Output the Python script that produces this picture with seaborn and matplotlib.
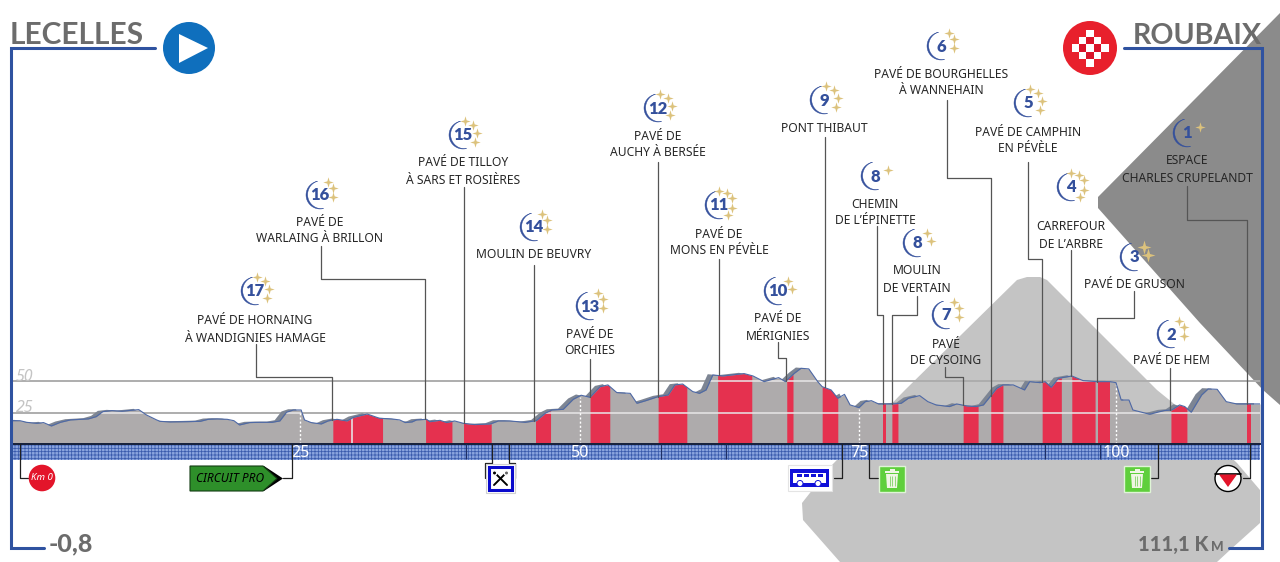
import numpy as np
import matplotlib
matplotlib.use("Agg")
import matplotlib.pyplot as plt
from matplotlib.patches import Polygon, Rectangle, Circle
from matplotlib.path import Path
import seaborn as sns

# ---------- data ----------
profile_km = [-0.8,0,0.6,1.5,2.1,2.8,3.6,4.5,6.1,6.8,7.4,8.2,9.1,10.6,11.3,12.2,12.5,13.4,14.9,16.1,16.8,17.6,18.5,19.1,19.6,20.5,21.4,22.5,23.2,23.8,24.4,25.1,25.4,26.0,26.9,27.5,28.3,29.2,29.8,31.0,32.1,33.2,33.9,34.4,35.0,35.4,36.3,
              36.6,37.5,38.1,38.8,39.6,40.6,42.0,42.7,43.7,45.1,46.1,46.9,47.5,48.5,49.4,50.1,50.9,51.8,52.5,53.3,54.5,55.1,55.9,57.0,57.9,58.5,59.2,60.1,60.7,61.3,61.9,62.8,64.7,65.5,66.5,67.8,68.4,69.2,69.8,70.5,71.3,71.7,72.5,73.1,73.7,74.2,75.0,
              75.6,76.2,76.9,78.2,79.1,79.8,80.9,81.7,82.5,83.8,84.5,85.5,86.4,87.1,88.4,89.0,90.0,91.1,91.6,92.6,93.1,93.7,94.4,95.7,96.8,98.1,99.4,100.0,
              100.4,101.0,101.3,102.6,103.7,104.3,104.9,105.3,105.8,106.6,107.1,107.8,108.5,109.3,111.1]
profile_elev = [18.5,18.5,17.2,16.4,17.0,14.3,17.2,19.1,19.9,21.7,25.7,26.5,26.0,27.3,23.0,19.1,18.0,17.5,17.7,18.0,19.6,19.9,19.6,18.5,15.1,17.0,17.2,17.2,18.3,25.2,27.0,27.0,19.1,17.0,15.9,18.3,19.6,18.3,21.2,23.8,20.4,19.9,19.1,17.0,17.5,19.1,19.6,
                17.7,18.8,17.0,18.3,16.4,15.4,15.9,18.3,18.3,17.2,18.5,24.4,27.0,27.5,35.5,38.7,37.1,45.5,46.9,40.8,40.2,32.3,34.4,37.6,38.9,46.9,47.6,41.6,40.2,42.9,54.8,54.0,55.9,54.0,49.5,52.7,49.5,56.1,60.1,59.6,49.5,45.5,42.9,36.3,39.4,31.0,28.9,
                33.6,34.4,31.8,31.8,32.3,36.3,38.4,33.6,31.0,29.7,31.8,30.2,29.7,31.0,44.2,46.9,46.9,42.9,49.5,48.7,49.5,45.0,52.1,54.0,50.3,49.5,49.5,48.7,
                34.9,34.9,27.0,23.6,26.5,27.0,31.0,29.7,25.2,38.9,43.7,43.4,33.6,31.8,31.8]

sector_numbers = [17,16,15,14,13,12,11,10,9,8,8,7,6,5,4,3,2,1]
sector_stars   = [4,3,4,3,3,4,5,2,4,1,2,3,3,4,5,2,3,1]
sector_names = [["PAVÉ DE HORNAING","À WANDIGNIES HAMAGE"],["PAVÉ DE","WARLAING À BRILLON"],
                ["PAVÉ DE TILLOY","À SARS ET ROSIÈRES"],["MOULIN DE BEUVRY"],["PAVÉ DE","ORCHIES"],
                ["PAVÉ DE","AUCHY À BERSÉE"],["PAVÉ DE","MONS EN PÉVÈLE"],["PAVÉ DE","MÉRIGNIES"],
                ["PONT THIBAUT"],["CHEMIN","DE L’ÉPINETTE"],["MOULIN","DE VERTAIN"],["PAVÉ","DE CYSOING"],
                ["PAVÉ DE BOURGHELLES","À WANNEHAIN"],["PAVÉ DE CAMPHIN","EN PÉVÈLE"],["CARREFOUR","DE L’ARBRE"],
                ["PAVÉ DE GRUSON"],["PAVÉ DE HEM"],["ESPACE","CHARLES CRUPELANDT"]]
sector_start = [27.9,36.2,39.6,46.0,50.9,57.0,62.3,68.5,71.7,77.3,78.2,85.1,87.8,92.8,95.7,98.2,104.2,110.1]
sector_end   = [32.4,38.6,42.1,47.4,52.7,59.6,65.4,69.1,73.1,77.6,78.8,86.6,89.0,94.7,98.0,99.4,105.5,110.4]
km_ticks = [25,50,75,100]
elev_ticks = [25,50]
start_name, finish_name = "LECELLES", "ROUBAIX"
start_km_label, finish_km_label = "-0,8", "111,1 K"

# ---------- layout (pixels of the poster) ----------
W, H = 1280, 562
AX_L, AX_R, AX_B, AX_T = 11, 1260, 444, 360
badge_xy = [(255,291),(320,195),(463,135),(534,227),(590,306),(658,108),(719,205),(778,291),(824,100),
            (875,176),(917,243),(946,315),(941,46),(1028,103),(1071,187),(1134,257),(1171,334),(1187,133)]
label_y = [[319,337],[221,238],[162,179],[254],[333,350],[135,152],[233,250],[318,335],[127],
           [203,220],[270,288],[343,360],[73,90],[131,148],[226,243],[284],[360],[160,177]]
leaders = [[(255.5,344),(255.5,377)],[(320.5,246),(320.5,278.5)],[(463.5,187)],[(534,265)],[(590,359)],[(658,162)],
           [(719,259)],[(778,342),(778,358)],[(824.7,137)],[(876.7,226),(876.7,315)],[(917,296),(917,315)],
           [(945,367),(945,377)],[(946.7,100),(946.7,178)],[(1028,162),(1028,259)],[(1071,250)],[(1134,291),(1134,318)],
           [(1170,368)],[(1186.7,186),(1186.7,220)]]
star_offsets = {1:[(12.7,-5.7)],2:[(10,-10),(14,-1.7)],3:[(7.7,-13.3),(12.7,-7.3),(13.3,2)],
                4:[(2,-14.3),(10,-10.3),(14,-1.7),(12,7.3)],5:[(0,-14),(8,-12),(12.7,-6.7),(13.3,3.3),(9,10)]}

sns.set_theme(style="white")
plt.rcParams["font.family"] = ["Noto Sans", "DejaVu Sans"]
BLUE = "#2f52a0"; GREY = "#6c6c6c"; NAVY = "#34509c"; GOLD = "#dcc27c"

# four-pointed star
_r = 0.22
star_path = Path([(0,1),(_r,_r),(1,0),(_r,-_r),(0,-1),(-_r,-_r),(-1,0),(-_r,_r),(0,1)])

fig = plt.figure(figsize=(W/100, H/100), dpi=100, facecolor="white")

def full_axes(z):
    a = fig.add_axes([0, 0, 1, 1], zorder=z)
    a.set_xlim(0, W); a.set_ylim(H, 0); a.axis("off"); a.patch.set_alpha(0)
    return a

bg = full_axes(0); fg = full_axes(5)

# background shapes
bg.add_patch(Polygon([(1280,13),(1197,97),(1098,197),(1098,208),(1200,323),(1263,390),(1280,405)], fc="#8b8b8b", ec="none"))
bg.add_patch(Polygon([(1017,280),(1027,277),(1040,277),(1047,280),(1157,390),(1173,403),(1237,463),(1260,490),(1260,523),
                      (1230,550),(1217,562),(840,562),(803,520),(802,503),(832,465),(905,390)], fc="#c4c4c4", ec="none"))
# km band
matplotlib.rcParams["hatch.linewidth"] = 0.55
bg.add_patch(Rectangle((AX_L, AX_B), AX_R-AX_L, 15.5, fc="#8ba5de", ec="#3a5bad", hatch="+++++", lw=0))

# profile axes
ax = fig.add_axes([AX_L/W, 1-AX_B/H, (AX_R-AX_L)/W, (AX_B-AX_T)/H], zorder=3)
ax.patch.set_alpha(0)
knots_km = np.array([-100, -0.8, 0, 25, 50, 75, 100, 111.1, 300])
knots_px = np.array([-1100, AX_L, 20, 300, 580, 859, 1116, 1260, 3700], dtype=float)
ax.set_xscale("function", functions=(lambda v: np.interp(v, knots_km, knots_px),
                                     lambda v: np.interp(v, knots_px, knots_km)))
ax.set_xlim(-0.8, 111.1); ax.set_ylim(0, (AX_B-AX_T)*25/31.5)

km = np.array(profile_km); el = np.array(profile_elev)
dense = np.unique(np.concatenate([km, np.linspace(-0.8, 111.1, 3000)]))
eld = np.interp(dense, km, el)

ax.set_yticks(elev_ticks); ax.set_yticklabels([str(t) for t in elev_ticks])
ax.yaxis.grid(True, color="#adadad", lw=1.4, zorder=0); ax.xaxis.grid(False)
ax.tick_params(axis="y", length=0, pad=-16, labelsize=11.5, labelcolor="#c4c4c4")
for t in ax.get_yticklabels():
    t.set_fontstyle("italic"); t.set_va("baseline")
ax.set_xticks(km_ticks); ax.set_xticklabels([str(t) for t in km_ticks])
ax.tick_params(axis="x", length=0, pad=0.5, labelsize=11.5, labelcolor="white")
ax.minorticks_off(); ax.set_xlabel(""); ax.set_ylabel("")
sns.despine(ax=ax, left=True, right=True, top=True, bottom=False)
ax.spines["bottom"].set_color("#15203a"); ax.spines["bottom"].set_linewidth(1.4); ax.spines["bottom"].set_zorder(9)

# 3D shadow on the rises, main body, sectors
ax.fill_between(dense-0.5, 0, eld+1.0, color="#7d8593", lw=0, zorder=2)
body = ax.fill_between(dense, 0, eld, color="#aeabac", lw=0, zorder=3)
for s, e in zip(sector_start, sector_end):
    m = (dense >= s) & (dense <= e)
    ax.fill_between(dense[m], 0, eld[m], color="#e5314f", lw=0, zorder=4)
ax.vlines([29.65], 0, np.interp(29.65, km, el), color="#e7e0e2", lw=1.2, zorder=5)
sns.lineplot(x=km, y=el, ax=ax, color="#4e69a6", lw=0.8, sort=False, estimator=None, zorder=6, legend=False)
for v in elev_ticks:
    ln = ax.axhline(v, color="#e8e6e7", lw=1.1, zorder=5)
    ln.set_clip_path(body.get_paths()[0], body.get_transform())
for t in km_ticks:
    ax.vlines(t, 0, np.interp(t, km, el)-1, color="white", lw=1, ls=(0, (1.5, 1.5)), zorder=5)

def to_px(k, e):
    x, y = ax.transData.transform((k, e))
    return x*W/fig.bbox.width, H-y*H/fig.bbox.height

# frame
LW = 2.2
fg.plot([155,11,11,44],[48,48,548,548], color=BLUE, lw=LW, solid_joinstyle="miter", zorder=2)
fg.plot([1124,1262,1262,1229],[48,48,548,548], color=BLUE, lw=LW, solid_joinstyle="miter", zorder=2)

# titles
fg.text(10, 44, start_name, family="Lato", weight="bold", size=21.5, color=GREY, ha="left", va="baseline")
fg.text(1133, 44, finish_name, family="Lato", weight="bold", size=20.6, color=GREY, ha="left", va="baseline")
fg.text(49, 551, start_km_label, family="Lato", weight="black", size=18, color=GREY, ha="left", va="baseline")
fg.text(1209, 551, finish_km_label, family="Lato", weight="black", size=14.5, color=GREY, ha="right", va="baseline")
fg.text(1211, 551, "M", family="Lato", weight="black", size=9.5, color=GREY, ha="left", va="baseline")

# start / finish discs
fg.add_patch(Circle((189,48), 26, fc="#0f6fbd", ec="none"))
fg.add_patch(Polygon([(179,34),(179,63),(208,48)], fc="white", ec="none"))
fg.add_patch(Circle((1090,48), 27, fc="#e8202c", ec="none"))
sq = 7.4
for i in range(-2,3):
    for j in range(-2,3):
        if abs(i)+abs(j) <= 2:
            c = "white" if (i+j) % 2 == 0 else "#d9142a"
            fg.add_patch(Rectangle((1090+i*sq-sq/2, 48+j*sq-sq/2), sq, sq, fc=c, ec="none"))

# badges, names, leaders
for n, st, names, xy, ys, lead, ks in zip(sector_numbers, sector_stars, sector_names, badge_xy, label_y, leaders, sector_start):
    cx, cy = xy
    th = np.radians(np.linspace(100, 285, 60))
    wid = 1.7*np.sin((th-th[0])/(th[-1]-th[0])*np.pi)
    ox, oy = cx+14*np.cos(th), cy-14*np.sin(th)
    ix, iy = cx+(14-wid)*np.cos(th), cy-(14-wid)*np.sin(th)
    fg.fill(np.r_[ox, ix[::-1]], np.r_[oy, iy[::-1]], color=NAVY, lw=0.3)
    fg.text(cx, cy+0.5, str(n), family="Lato", weight="heavy", size=12, color=NAVY, ha="center", va="center")
    for dx, dy in star_offsets[st]:
        fg.plot(cx+dx, cy+dy, marker=star_path, ms=10 if n == 3 else 7.5, mfc=GOLD, mec="none", ls="none")
    for line, y in zip(names, ys):
        fg.text(cx, y+1, line, size=8.7, color="#262626", ha="center", va="center", zorder=3)
    ex, ey = to_px(ks, np.interp(ks, km, el))
    pts = list(lead)
    if abs(pts[-1][0]-ex) > 1.5:
        pts.append((ex, pts[-1][1]) if len(pts) > 1 else (pts[-1][0], ey))
    if len(pts) > 1 and abs(pts[-1][0]-ex) <= 1.5:
        pts.append((ex, ey))
    elif len(pts) == 1:
        pts.append((pts[0][0], ey))
    fg.plot(*zip(*pts), color="#555555", lw=0.9, zorder=1)

# service leaders
LC = "#202020"
for path in [[(20,444),(20,478),(28,478)],[(291.7,444),(291.7,478),(283,478)],[(491.7,444),(491.7,463),(485,463),(485,478)],
             [(509,444),(509,463),(515,463),(515,478)],[(841.7,444),(841.7,478),(834,478)],[(869.3,444),(869.3,478),(878,478)],
             [(1158,444),(1158,478),(1150,478)],[(1250,444),(1250,478),(1243,478)]]:
    fg.plot(*zip(*path), color=LC, lw=0.9, zorder=1)
fg.vlines([465.7,661,726,1045,1100], 444, 459, color="#1d2f66", lw=0.8, zorder=1)

# icons
fg.add_patch(Circle((42,478), 13.3, fc="#e3152a", ec="none", zorder=3))
fg.text(42, 478, "Km 0", size=7, weight="bold", style="italic", color="white", ha="center", va="center", zorder=4)
fg.add_patch(Polygon([(264,466),(283,478.5),(264,491)], fc="black", ec="none", zorder=3))
fg.add_patch(Polygon([(190,466),(263,466),(277,478.5),(263,491),(190,491)], fc="#2e8f2a", ec="#143d14", lw=0.8, zorder=3))
fg.text(230, 478.5, "CIRCUIT PRO", size=8.6, weight="bold", style="italic", color="black", ha="center", va="center", zorder=4)
fg.add_patch(Rectangle((486,464), 29, 29, fc="white", ec="#d0d0d0", lw=0.8, zorder=3))
fg.add_patch(Rectangle((489,467), 23, 22.5, fc="white", ec="#0a0acc", lw=2.2, zorder=3))
fg.plot([494,507],[472,485], color="black", lw=1.4, zorder=4); fg.plot([507,494],[472,485], color="black", lw=1.4, zorder=4)
fg.add_patch(Circle((494.5,473), 2.2, fc="black", zorder=4)); fg.add_patch(Circle((506.5,473), 2.2, fc="#666666", zorder=4))
fg.add_patch(Rectangle((788,465), 44, 26, fc="white", ec="#e4e4e4", lw=0.8, zorder=3))
fg.add_patch(Rectangle((790,469), 39, 18, fc="#1010d8", ec="none", zorder=3))
fg.add_patch(Rectangle((793,473), 33, 10, fc="white", ec="none", zorder=4))
for x in [797,804,811,818]:
    fg.add_patch(Rectangle((x,474), 5, 3.4, fc="#1010d8", ec="none", zorder=5))
for x in [800,818]:
    fg.add_patch(Circle((x,483.5), 3, fc="white", ec="#1010d8", lw=0.7, zorder=5))
for x0 in [879,1124]:
    fg.add_patch(Rectangle((x0,466), 26, 26, fc="#5fcf3c", ec="#dff5d6", lw=1, zorder=3))
    fg.add_patch(Polygon([(x0+7,474),(x0+19,474),(x0+18,488),(x0+8,488)], fc="#f0f5e4", ec="none", zorder=4))
    fg.add_patch(Rectangle((x0+6,471), 14, 1.8, fc="#f0f5e4", ec="none", zorder=4))
    fg.add_patch(Rectangle((x0+10.5,469), 5, 2, fc="#f0f5e4", ec="none", zorder=4))
    fg.vlines([x0+10.5,x0+13,x0+15.5], 476, 486, color="#8fd878", lw=0.7, zorder=5)
fg.add_patch(Circle((1228,478.5), 13, fc="white", ec="black", lw=1, zorder=3))
fg.plot([1215,1241],[474,474], color="black", lw=1.2, zorder=4)
fg.add_patch(Polygon([(1219,474.5),(1237,474.5),(1228,487)], fc="#e3152a", ec="none", zorder=4))

fig.savefig("out.png", dpi=100, facecolor="white")
